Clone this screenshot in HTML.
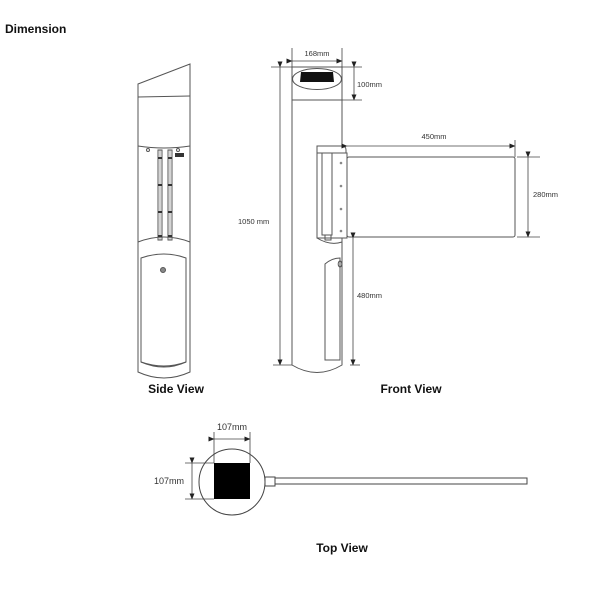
<!DOCTYPE html>
<html><head><meta charset="utf-8"><style>
html,body{margin:0;padding:0;background:#fff;}
svg{display:block;}
text{font-family:"Liberation Sans",Arial,sans-serif;}
.b{font-weight:bold;font-size:12px;fill:#111;}
.d{font-size:7.5px;fill:#333;}
</style></head><body>
<svg width="600" height="600" viewBox="0 0 600 600" xmlns="http://www.w3.org/2000/svg">
<defs>
<marker id="ar" markerWidth="6" markerHeight="6" refX="5.5" refY="3" orient="auto" markerUnits="userSpaceOnUse">
<path d="M0,0.5 L6,3 L0,5.5 Z" fill="#222"/></marker>
</defs>
<text x="5" y="33" class="b">Dimension</text>

<!-- SIDE VIEW -->
<g fill="none" stroke="#555" stroke-width="1">
<path d="M138,84 L190,64 L190,372 Q164,384 138,372 Z" fill="#fff"/>
<line x1="138" y1="97" x2="190" y2="96"/>
<path d="M138,146 Q164,150 190,146"/>
<rect x="158" y="150" width="4" height="90"/>
<rect x="168" y="150" width="4" height="90"/>
<line x1="160" y1="150" x2="160" y2="240" stroke-width="0.5"/>
<line x1="170" y1="150" x2="170" y2="240" stroke-width="0.5"/>
<path d="M138,242 Q164,232 190,242"/>
<path d="M141,258 Q164,250 186,258 L186,362 Q164,370 141,362 Z"/>
<circle cx="163" cy="270" r="2.5" fill="#888"/>
<path d="M141,362 Q164,372 186,362"/>
<circle cx="148" cy="150" r="1.5"/>
<circle cx="178" cy="150" r="1.5"/>
</g>
<g fill="#333">
<rect x="158" y="157" width="4" height="2"/><rect x="168" y="157" width="4" height="2"/>
<rect x="158" y="184" width="4" height="2"/><rect x="168" y="184" width="4" height="2"/>
<rect x="158" y="211" width="4" height="2"/><rect x="168" y="211" width="4" height="2"/>
<rect x="158" y="235" width="4" height="2"/><rect x="168" y="235" width="4" height="2"/>
<rect x="175" y="153" width="9" height="4"/>
</g>
<text x="176" y="393" class="b" text-anchor="middle">Side View</text>

<!-- FRONT VIEW -->
<g fill="none" stroke="#555" stroke-width="1">
<path d="M292,67 L342,67 L342,146 L317,146 L317,238 L342,238 L342,365 Q317,380 292,365 Z" fill="#fff"/>
<ellipse cx="317" cy="79" rx="24.5" ry="10.5"/>
<line x1="292" y1="100" x2="342" y2="100"/>
<path d="M342,146 Q346,146 346,150 L346,153"/>
<rect x="317" y="153" width="30" height="85" fill="#fff"/>
<rect x="322" y="153" width="10" height="82"/>
<rect x="325" y="235" width="6" height="5"/>
<path d="M317,238 Q330,246 342,242"/>
<path d="M325,264 Q332,258 340,258 L340,360 L325,360 Z"/>
<ellipse cx="340" cy="264" rx="1.8" ry="3"/>
<rect x="347" y="157" width="168" height="80" rx="2"/>
</g>
<path d="M301,72 L333,72 L334,82 L300,82 Z" fill="#111"/>
<g fill="#888">
<circle cx="341" cy="163" r="1.3"/><circle cx="341" cy="186" r="1.3"/>
<circle cx="341" cy="209" r="1.3"/><circle cx="341" cy="231" r="1.3"/>
</g>
<!-- dims front -->
<g stroke="#444" stroke-width="0.8" fill="none">
<line x1="292" y1="48" x2="292" y2="67"/><line x1="342" y1="48" x2="342" y2="67"/>
<line x1="292" y1="61" x2="342" y2="61" marker-start="url(#ar)" marker-end="url(#ar)"/>
<line x1="271" y1="67" x2="292" y2="67"/>
<line x1="342" y1="67" x2="362" y2="67"/>
<line x1="342" y1="100" x2="362" y2="100"/>
<line x1="354" y1="67" x2="354" y2="100" marker-start="url(#ar)" marker-end="url(#ar)"/>
<line x1="280" y1="67" x2="280" y2="365" marker-start="url(#ar)" marker-end="url(#ar)"/>
<line x1="273" y1="365" x2="292" y2="365"/>
<line x1="350" y1="365" x2="360" y2="365"/>
<line x1="347" y1="146" x2="515" y2="146" marker-start="url(#ar)" marker-end="url(#ar)"/>
<line x1="515" y1="140" x2="515" y2="157"/>
<line x1="517" y1="157" x2="540" y2="157"/>
<line x1="517" y1="237" x2="540" y2="237"/>
<line x1="528" y1="157" x2="528" y2="237" marker-start="url(#ar)" marker-end="url(#ar)"/>
<line x1="353" y1="238" x2="353" y2="365" marker-start="url(#ar)" marker-end="url(#ar)"/>
</g>
<text x="317" y="56" class="d" text-anchor="middle">168mm</text>
<text x="357" y="87" class="d">100mm</text>
<text x="238" y="224" class="d">1050 mm</text>
<text x="434" y="139" class="d" text-anchor="middle">450mm</text>
<text x="533" y="197" class="d">280mm</text>
<text x="357" y="298" class="d">480mm</text>
<text x="411" y="393" class="b" text-anchor="middle">Front View</text>

<!-- TOP VIEW -->
<g fill="none" stroke="#444" stroke-width="1">
<circle cx="232" cy="482" r="33" fill="#fff"/>
<rect x="265" y="477" width="10" height="9" fill="#fff"/>
<rect x="275" y="478" width="252" height="6" fill="#fff"/>
</g>
<rect x="214" y="463" width="36" height="36" fill="#000"/>
<g stroke="#444" stroke-width="0.8" fill="none">
<line x1="214" y1="432" x2="214" y2="463"/><line x1="250" y1="432" x2="250" y2="463"/>
<line x1="214" y1="439" x2="250" y2="439" marker-start="url(#ar)" marker-end="url(#ar)"/>
<line x1="185" y1="463" x2="214" y2="463"/><line x1="185" y1="499" x2="214" y2="499"/>
<line x1="192" y1="463" x2="192" y2="499" marker-start="url(#ar)" marker-end="url(#ar)"/>
</g>
<text x="232" y="430" class="d" style="font-size:9px" text-anchor="middle">107mm</text>
<text x="154" y="484" class="d" style="font-size:9px">107mm</text>
<text x="342" y="552" class="b" text-anchor="middle">Top View</text>
</svg>
</body></html>
